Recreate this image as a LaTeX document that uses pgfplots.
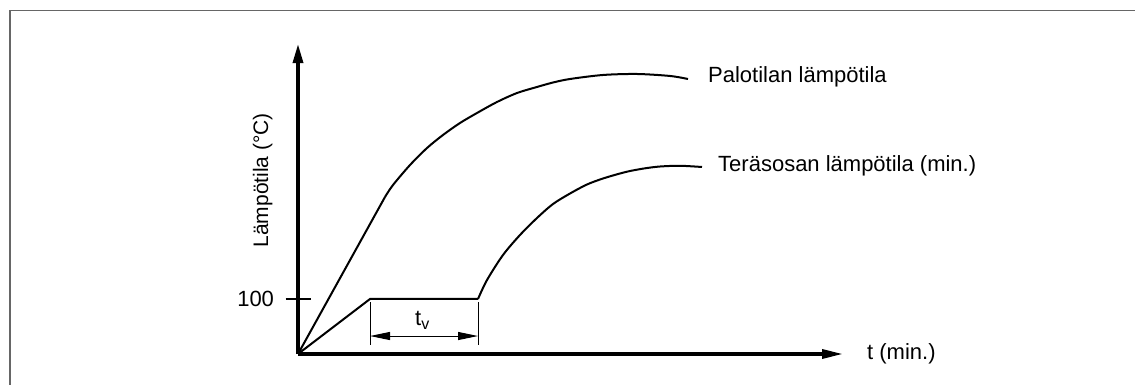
\documentclass[border=0pt]{standalone}
\usepackage{pgfplots}
\pgfplotsset{compat=1.18}
\usepackage{fontspec}
\setmainfont{Liberation Sans}
\usetikzlibrary{arrows.meta}
\begin{document}
\begin{tikzpicture}[font=\fontsize{22bp}{26bp}\selectfont]
\path[use as bounding box] (0,0) rectangle (1135bp,385bp);
\draw[line width=1.2bp, color=black!60] (10bp,0) -- (10bp,374.5bp) -- (1135bp,374.5bp);
\begin{axis}[
  at={(298bp,31bp)}, anchor=south west,
  x=10bp, y=0.55bp,
  xmin=0, xmax=54.5, ymin=0, ymax=563.6,
  axis lines=left,
  axis line style={line width=3.3bp, black},
  x axis line style={-{Triangle[length=21bp,width=9bp]}},
  y axis line style={-{Triangle[length=19bp,width=10bp]}},
  xtick=\empty, ytick={100},
  tick align=center, major tick length=25bp,
  tick style={line width=1.3bp, black},
  /pgf/number format/assume math mode=true,
  yticklabel style={font=\fontsize{22bp}{26bp}\selectfont, xshift=-8bp},
  clip=false,
]
% Palotilan lampotila
\addplot[line width=2bp, no marks] coordinates {(0,0) (8.7,285.5)};
\addplot[line width=2bp, no marks, smooth] coordinates {(8.7,285.5) (9.5,307.3) (11.2,343.6) (12.9,374.5) (14.5,398.2) (16.2,420) (17.9,438.2) (19.9,458.2) (21.9,474.5) (23.9,485.5) (25.5,493.6) (27.2,500) (30.5,507.3) (33.9,509.1) (37.2,505.5) (39.0,500)};
% Terasosan lampotila
\addplot[line width=2bp, no marks] coordinates {(0,0) (7.2,100) (18.0,100)};
\addplot[line width=2bp, no marks, smooth] coordinates {(18.0,100) (18.9,134.5) (20.5,180) (22.2,216.4) (23.9,247.3) (25.5,272.7) (27.2,291.8) (28.9,308.2) (30.5,319.1) (32.2,328.2) (33.2,332.7) (34.7,337.6) (36.2,340.9) (38.2,342.2) (40.4,340)};
% dimension t_v
\addplot[line width=1bp, no marks] coordinates {(7.2,94.5) (7.2,16.4)};
\addplot[line width=1bp, no marks] coordinates {(18.0,94.5) (18.0,16.4)};
\addplot[line width=1bp, no marks, {Triangle[length=20bp,width=8bp]}-{Triangle[length=20bp,width=8bp]}] coordinates {(7.2,32.7) (18.0,32.7)};
\node[anchor=base west, inner sep=0] at (axis cs:11.7,52.7) {t\raisebox{-4bp}{\fontsize{16bp}{16bp}\selectfont v}};
\node[anchor=base west, inner sep=0] at (axis cs:41.0,494.5) {Palotilan lämpötila};
\node[anchor=base west, inner sep=0] at (axis cs:42.0,331) {Teräsosan lämpötila (min.)};
\node[anchor=base west, inner sep=0] at (axis cs:56.9,-10.9) {t (min.)};
\node[rotate=90, anchor=base, inner sep=0, font=\fontsize{21bp}{25bp}\selectfont] at (axis cs:-3.0,316) {Lämpötila (°C)};
\end{axis}
\end{tikzpicture}
\end{document}
